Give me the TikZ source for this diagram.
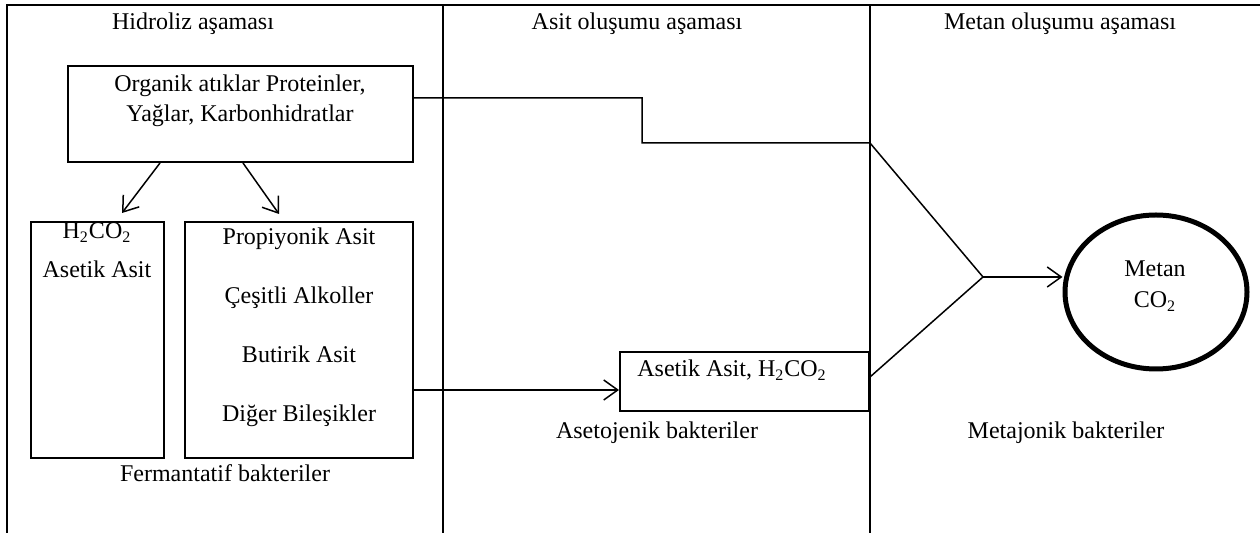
\documentclass[tikz,border=0pt]{standalone}
\usepackage{fontspec}
\setmainfont{Liberation Serif}
\usetikzlibrary{arrows.meta,shapes.geometric}

\begin{document}
\begin{tikzpicture}[x=0.5pt, y=-0.5pt, font=\fontsize{12}{14}\selectfont]
		\tikzset{kutu/.style={draw=black, line width=1pt, inner sep=0pt}};
		\tikzset{yazi/.style={anchor=base, inner sep=0pt}};
		\tikzset{ok/.style={-{Straight Barb[length=7pt, width=10pt]}, line width=0.75pt}};
		\tikzset{cizgi/.style={line width=0.75pt}};
		\tikzset{cerceve/.style={line width=1pt}};

		\useasboundingbox (0,0) rectangle (1260,533);

		\draw[cerceve] (7,533) -- (7,5) -- (1260,5);
		\draw[cerceve] (443,5) -- (443,533);
		\draw[cerceve] (870,5) -- (870,533);

		\node[yazi] (hidroliz) at (193, 30) {Hidroliz aşaması};
		\node[yazi] (asitasama) at (637, 30) {Asit oluşumu aşaması};
		\node[yazi] (metanasama) at (1060, 30) {Metan oluşumu aşaması};

		\node[kutu, minimum width=172.5pt, minimum height=48pt] (organik) at (240.5, 114) {};
		\node[yazi] (org1) at (240, 92) {Organik atıklar Proteinler,};
		\node[yazi] (org2) at (240, 122) {Yağlar, Karbonhidratlar};

		\node[kutu, minimum width=66.5pt, minimum height=118pt] (solkutu) at (97.5, 340) {};
		\node[yazi] (h2co2) at (97, 239) {H\textsubscript{2}CO\textsubscript{2}};
		\node[yazi] (asetik1) at (97, 278) {Asetik Asit};

		\node[kutu, minimum width=114pt, minimum height=118pt] (sagkutu) at (299, 340) {};
		\node[yazi] (propiyonik) at (299, 245) {Propiyonik Asit};
		\node[yazi] (alkol) at (299, 304) {Çeşitli Alkoller};
		\node[yazi] (butirik) at (299, 363) {Butirik Asit};
		\node[yazi] (diger) at (299, 422) {Diğer Bileşikler};

		\node[yazi] (fermantatif) at (225, 482) {Fermantatif bakteriler};

		\node[kutu, minimum width=124.5pt, minimum height=29.5pt] (asetik) at (744.5, 381.5) {};
		\node[yazi, anchor=base west] (asetik2) at (637, 377) {Asetik Asit, H\textsubscript{2}CO\textsubscript{2}};
		\node[yazi] (asetojenik) at (657, 439) {Asetojenik bakteriler};

		\node[ellipse, draw=black, line width=2.5pt, minimum width=91pt, minimum height=77pt] (metan) at (1156, 292) {};
		\node[yazi] (metan1) at (1155, 277) {Metan};
		\node[yazi] (metan2) at (1155, 308) {CO\textsubscript{2}};
		\node[yazi] (metajonik) at (1066, 439) {Metajonik bakteriler};

		\coordinate (u1) at (122, 213);
		\coordinate (u2) at (279, 214);
		\coordinate (kavsak) at (983, 277);

		\draw[ok] ([xshift=-40.25pt]organik.south) -- (u1);
		\draw[ok] ([xshift=1.25pt]organik.south) -- (u2);

		\draw[ok] ([yshift=-25pt]sagkutu.east) -- ([yshift=-4.25pt]asetik.west);

		\draw[cizgi] ([yshift=8pt]organik.east) -- (642, 98) -- (642, 143) -- (870, 143) -- (kavsak);
		\draw[cizgi] ([yshift=2.25pt]asetik.east) -- (kavsak);

		\draw[ok] (kavsak) -- (kavsak -| metan.west);

	\end{tikzpicture}
\end{document}
